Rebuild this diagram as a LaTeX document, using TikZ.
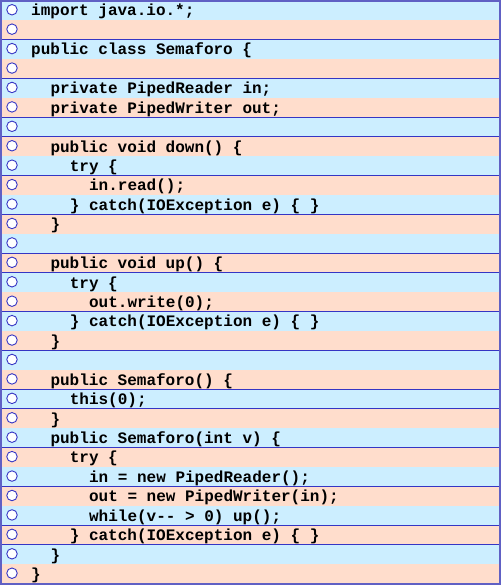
\documentclass[tikz,border=0pt]{standalone}
\usepackage{fontspec}
\setmonofont{Liberation Mono}
\usetikzlibrary{calc}
\definecolor{rowblue}{HTML}{CCEEFF}
\definecolor{rowpeach}{HTML}{FFDDCC}
\definecolor{rulecol}{HTML}{3535C4}
\definecolor{framecol}{HTML}{6060C4}
\begin{document}
\begin{tikzpicture}[x=1pt,y=-1pt,
    codeline/.style={anchor=base west,inner sep=0pt,font=\ttfamily\bfseries\fontsize{16}{18}\selectfont},
    bullet/.style={circle,draw=rulecol,fill=white,line width=0.9pt,minimum size=10.5pt,inner sep=0pt}]
  \useasboundingbox (0,0) rectangle (501,585);
  \begin{scope}
    \def\rowh{19.43}
    \def\ytop{1}
    \def\tab{19.3}

    \foreach \lvl/\txt [count=\i] in {
        0/import java.io.*;, 0/{}, 0/public class Semaforo \{, 0/{},
        1/private PipedReader in;, 1/private PipedWriter out;, 0/{},
        1/public void down() \{, 2/try \{, 3/in.read();, 2/\} catch(IOException e) \{ \}, 1/\}, 0/{},
        1/public void up() \{, 2/try \{, 3/out.write(0);, 2/\} catch(IOException e) \{ \}, 1/\}, 0/{},
        1/public Semaforo() \{, 2/this(0);, 1/\},
        1/public Semaforo(int v) \{, 2/try \{, 3/in = new PipedReader();, 3/out = new PipedWriter(in);,
        3/while(v-- > 0) up();, 2/\} catch(IOException e) \{ \}, 1/\}, 0/\}} {
      \ifodd\i \def\rowcol{rowblue}\else\def\rowcol{rowpeach}\fi
      \fill[\rowcol] (1,{\ytop+(\i-1)*\rowh}) rectangle (499,{\ytop+\i*\rowh});
      \draw[rulecol,line width=1.1pt] (1,{\ytop+\i*\rowh}) -- (499,{\ytop+\i*\rowh});
      \node[bullet] (o\i) at (12,{\ytop+(\i-0.55)*\rowh}) {};
      \node[codeline] (l\i) at ({31+\lvl*\tab},{\ytop+(\i-1)*\rowh+15}) {\txt};
    }
    \draw[framecol,line width=2pt] (1,1) rectangle (499.5,584);
  \end{scope}
\end{tikzpicture}
\end{document}
